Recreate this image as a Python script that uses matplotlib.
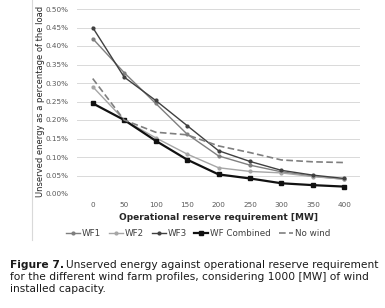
import matplotlib
matplotlib.use("Agg")
import matplotlib.pyplot as plt
from matplotlib.ticker import FuncFormatter

# Data (unserved energy, % of load)
reserve = [0, 50, 100, 150, 200, 250, 300, 350, 400]
wf1 = [0.420, 0.328, 0.245, 0.162, 0.103, 0.078, 0.060, 0.048, 0.040]
wf2 = [0.290, 0.200, 0.152, 0.108, 0.071, 0.061, 0.057, 0.047, 0.040]
wf3 = [0.450, 0.316, 0.253, 0.185, 0.117, 0.088, 0.064, 0.051, 0.042]
wf_comb = [0.245, 0.200, 0.144, 0.093, 0.053, 0.042, 0.029, 0.024, 0.020]
no_wind = [0.312, 0.200, 0.167, 0.160, 0.130, 0.112, 0.092, 0.087, 0.085]

W, H = 385, 308
fig = plt.figure(figsize=(W / 100, H / 100), dpi=100)
ax = fig.add_axes([77 / W, 1 - 194 / H, (360 - 77) / W, (194 - 9) / H])

ax.plot(reserve, wf1, color="#7f7f7f", lw=1.0, marker="o", ms=2, label="WF1")
ax.plot(reserve, wf2, color="#a6a6a6", lw=1.0, marker="o", ms=2, label="WF2")
ax.plot(reserve, wf3, color="#404040", lw=1.0, marker="o", ms=2, label="WF3")
ax.plot(reserve, wf_comb, color="#111111", lw=1.6, marker="s", ms=3.5, label="WF Combined")
ax.plot(reserve, no_wind, color="#7f7f7f", lw=1.2, ls=(0, (4, 2)), label="No wind")

ax.set_xlim(-25, 425)
ax.set_ylim(0, 0.5)
ax.set_xticks(reserve)
ax.set_yticks([i * 0.05 for i in range(11)])
ax.yaxis.set_major_formatter(FuncFormatter(lambda v, p: "%.2f%%" % v))
ax.grid(axis="y", color="#d9d9d9", lw=0.7)
ax.set_axisbelow(True)
for s in ax.spines.values():
    s.set_visible(False)
ax.tick_params(length=0, labelsize=5.2, labelcolor="#595959", pad=6)

ax.set_xlabel("Operational reserve requirement [MW]", fontsize=6.5,
              fontweight="bold", color="#262626", labelpad=3)
fig.text(41 / W, 1 - 101 / H, "Unserved energy as a percentage of the load",
         fontsize=6, color="#262626", rotation=90, ha="center", va="center")

fig.legend(loc="center", bbox_to_anchor=(198 / W, 1 - 234 / H), ncol=5,
           frameon=False, fontsize=6.3, handlelength=1.6, handletextpad=0.2,
           columnspacing=0.9, labelcolor="#404040")

# light chart frame edge on the left
fig.add_artist(plt.Line2D([32 / W, 32 / W], [1 - 240 / H, 1.0], color="#d9d9d9", lw=0.8))

# caption
cap_y = [265, 277, 289]
fs = 7.7
fig.text(10 / W, 1 - cap_y[0] / H, "Figure 7.", fontsize=fs, fontweight="bold",
         va="center", color="#1a1a1a")
fig.text(378 / W, 1 - cap_y[0] / H,
         "Unserved energy against operational reserve requirement",
         fontsize=fs, va="center", ha="right", color="#1a1a1a")
fig.text(10 / W, 1 - cap_y[1] / H,
         "for the different wind farm profiles, considering 1000 [MW] of wind",
         fontsize=fs, va="center", color="#1a1a1a")
fig.text(10 / W, 1 - cap_y[2] / H, "installed capacity.",
         fontsize=fs, va="center", color="#1a1a1a")

fig.savefig("out.png", dpi=100)
